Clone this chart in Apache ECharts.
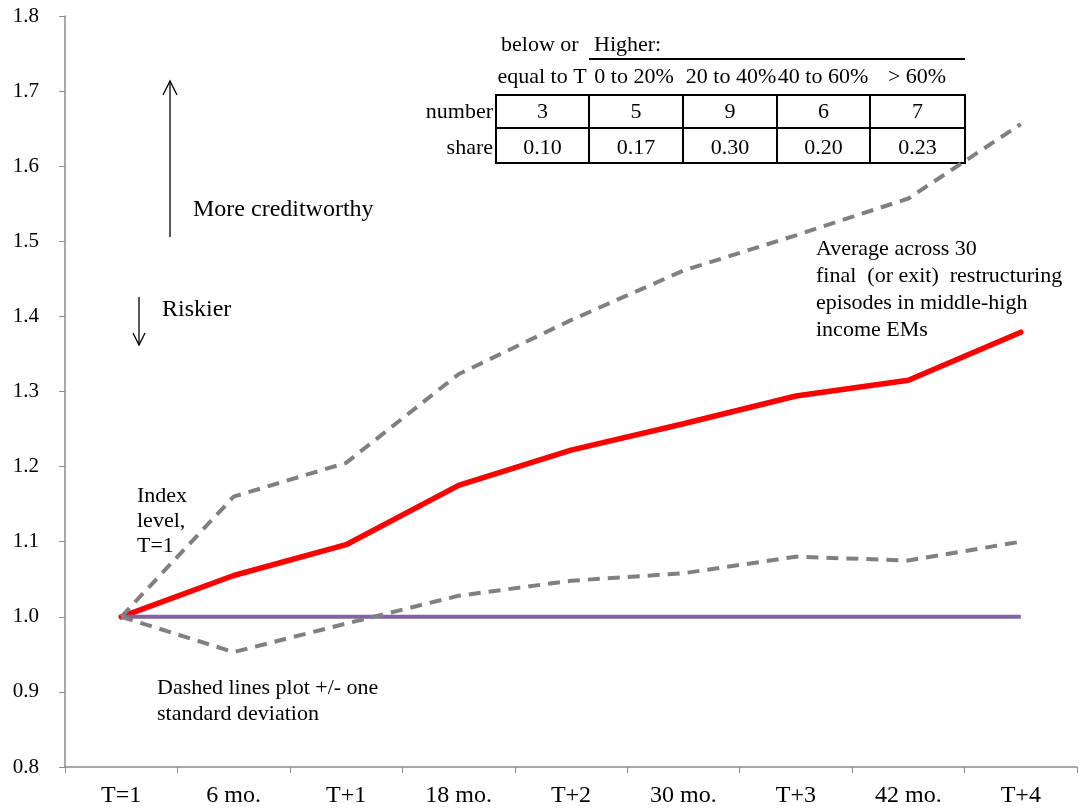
<!DOCTYPE html>
<html><head><meta charset="utf-8">
<script src="https://cdn.jsdelivr.net/npm/echarts@6/dist/echarts.min.js"></script>
<style>html,body{margin:0;padding:0;background:#fff}#c{width:1081px;height:810px}</style>
</head><body><div id="c"></div>
<script>
var categories = ['T=1','6 mo.','T+1','18 mo.','T+2','30 mo.','T+3','42 mo.','T+4'];
var average = [1.0,1.055,1.096,1.175,1.222,1.257,1.294,1.315,1.379];
var upperSD = [1.0,1.160,1.205,1.323,1.395,1.461,1.508,1.557,1.656];
var lowerSD = [1.0,0.953,0.991,1.028,1.048,1.058,1.080,1.075,1.100];
var baseline = [1,1,1,1,1,1,1,1,1];
var tableHeaders = ['equal to T','0 to 20%','20 to 40%','40 to 60%','> 60%'];
var tableNumbers = ['3','5','9','6','7'];
var tableShares = ['0.10','0.17','0.30','0.20','0.23'];

var FONT = '"Liberation Serif", "Times New Roman", serif';
var chart = echarts.init(document.getElementById('c'));

var colX = [496,589,683,777,870,965];
var rowY = [95,128,163];
var g = [];
function txt(x,y,s,align,size){
  return {type:'text',x:x,y:y,style:{text:s,fill:'#000',font:(size||22)+'px '+FONT,textAlign:align||'center',textVerticalAlign:'middle'}};
}
function ln(x1,y1,x2,y2,w,c){
  return {type:'line',shape:{x1:x1,y1:y1,x2:x2,y2:y2},style:{stroke:c||'#000',lineWidth:w||2}};
}
g.push(txt(501,45,'below or','left'));
g.push(txt(594,45,'Higher:','left'));
g.push(ln(589,59,965,59,2));
for (var i=0;i<5;i++){
  var cx=(colX[i]+colX[i+1])/2;
  g.push(txt(cx,112,tableNumbers[i]));
  g.push(txt(cx,148,tableShares[i]));
}
var hx=[542,634,731,823,917];
for (var i=0;i<5;i++) g.push(txt(hx[i],77,tableHeaders[i]));
g.push(txt(493,112,'number','right'));
g.push(txt(493,148,'share','right'));
for (var r=0;r<3;r++) g.push(ln(colX[0]-1,rowY[r],colX[5]+1,rowY[r],2));
for (var c=0;c<6;c++) g.push(ln(colX[c],rowY[0],colX[c],rowY[2],2));

g.push(ln(170,237,170,81,1.3));
g.push({type:'polyline',shape:{points:[[163,95],[170,81],[177,95]]},style:{stroke:'#000',lineWidth:1.3,fill:null}});
g.push(ln(139,297,139,345,1.3));
g.push({type:'polyline',shape:{points:[[133,333],[139,345],[145,333]]},style:{stroke:'#000',lineWidth:1.3,fill:null}});
g.push(txt(193,210,'More creditworthy','left',24));
g.push(txt(162,310,'Riskier','left',24));
g.push({type:'text',x:137,y:484,style:{text:'Index\nlevel,\nT=1',fill:'#000',font:'22px '+FONT,lineHeight:25}});
g.push({type:'text',x:157,y:675,style:{text:'Dashed lines plot +/- one\nstandard deviation',fill:'#000',font:'22px '+FONT,lineHeight:26}});
g.push({type:'text',x:816,y:236,style:{text:'Average across 30\nfinal  (or exit)  restructuring\nepisodes in middle-high\nincome EMs',fill:'#000',font:'22px '+FONT,lineHeight:27}});

chart.setOption({
  animation:false,
  grid:{left:65,right:4,top:16,bottom:43,containLabel:false},
  xAxis:{type:'category',data:categories,boundaryGap:true,
    axisLine:{lineStyle:{color:'#8c8c8c',width:1.5}},
    axisTick:{show:true,alignWithLabel:false,length:6,lineStyle:{color:'#8c8c8c'}},
    axisLabel:{color:'#000',fontFamily:FONT,fontSize:24,margin:17}},
  yAxis:{type:'value',min:0.8,max:1.8,interval:0.1,
    axisLine:{show:true,lineStyle:{color:'#8c8c8c',width:1.5}},
    axisTick:{show:true,length:6,lineStyle:{color:'#8c8c8c'}},
    splitLine:{show:false},
    axisLabel:{color:'#000',fontFamily:FONT,fontSize:21,margin:26,formatter:function(v){return v.toFixed(1);}}},
  series:[
    {type:'line',data:average,symbol:'none',lineStyle:{color:'#ff0000',width:5.5,cap:'round'}},
    {type:'line',data:baseline,symbol:'none',lineStyle:{color:'#8064a2',width:4}},
    {type:'line',data:upperSD,symbol:'none',lineStyle:{color:'#808080',width:4,type:[12,8]}},
    {type:'line',data:lowerSD,symbol:'none',lineStyle:{color:'#808080',width:4,type:[12,8]}}
  ],
  graphic:g
});
</script></body></html>
